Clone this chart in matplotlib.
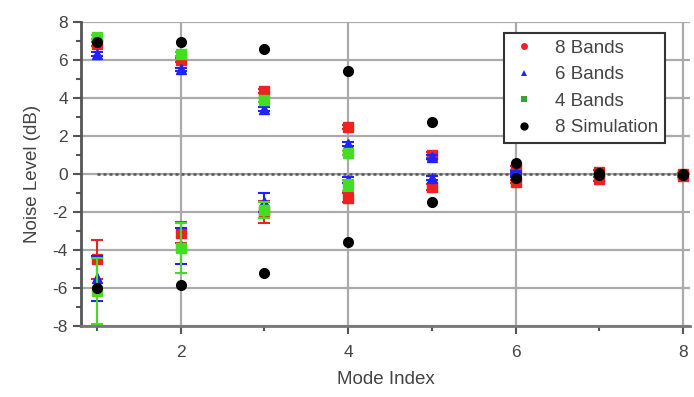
import matplotlib
matplotlib.use("Agg")
import matplotlib.pyplot as plt
from matplotlib.ticker import MultipleLocator
from matplotlib.lines import Line2D

plt.rcParams['font.family'] = ['Liberation Sans', 'DejaVu Sans']
plt.rcParams['axes.unicode_minus'] = False

# ---- data ----
modes8 = [1, 1, 2, 2, 3, 3, 4, 4, 5, 5, 6, 6, 7, 7, 8, 8]
bands8 = [6.85, -4.5, 6.0, -3.1, 4.38, -2.0, 2.46, -1.25, 1.0, -0.67, 0.3, -0.4, 0.1, -0.25, 0.0, -0.1]
err8 = [0.1, 1.05, 0.1, 0.55, 0.1, 0.6, 0.1, 0.25, 0.15, 0.15, 0.1, 0.1, 0.1, 0.1, 0.05, 0.05]

modes6 = [1, 1, 2, 2, 3, 3, 4, 4, 5, 5, 6, 6]
bands6 = [6.3, -5.5, 5.5, -3.8, 3.4, -1.5, 1.58, -0.3, 0.9, -0.2, 0.12, -0.1]
err6 = [0.1, 1.2, 0.1, 0.93, 0.1, 0.5, 0.1, 0.15, 0.1, 0.1, 0.05, 0.05]

modes4 = [1, 1, 2, 2, 3, 3, 4, 4]
bands4 = [7.2, -6.15, 6.3, -3.9, 3.9, -1.9, 1.1, -0.6]
err4 = [0.1, 1.75, 0.1, 1.3, 0.1, 0.4, 0.1, 0.3]

modes_sim = [1, 1, 2, 2, 3, 3, 4, 4, 5, 5, 6, 6, 7, 7, 8, 8]
sim8 = [6.95, -6.0, 6.93, -5.85, 6.6, -5.2, 5.42, -3.6, 2.75, -1.46, 0.56, -0.23, 0.05, -0.05, 0.0, -0.05]

labels = ["8 Bands", "6 Bands", "4 Bands", "8 Simulation"]
colors = ['#ee2222', '#2222ff', '#44dd22', 'black']
markers = ['s', '^', 's', 'o']

fig = plt.figure(figsize=(6.94, 3.97), dpi=100)
ax = fig.add_axes([0.1167, 0.179, 0.994 - 0.1167, 0.9446 - 0.179])

txt = '#444444'
grid_c = '#aaaaaa'

ax.set_xlim(0.81, 8.08)
ax.set_ylim(-8, 8)
ax.yaxis.set_major_locator(MultipleLocator(2))
ax.yaxis.set_minor_locator(MultipleLocator(1))
ax.xaxis.set_major_locator(MultipleLocator(2))
ax.xaxis.set_minor_locator(MultipleLocator(1))
ax.grid(True, which='major', color=grid_c, linewidth=1.6, zorder=0)
ax.set_axisbelow(True)

for s in ['top', 'right']:
    ax.spines[s].set_visible(False)
ax.spines['left'].set_color('#555555')
ax.spines['left'].set_linewidth(2.0)
ax.spines['bottom'].set_color('#777777')
ax.spines['bottom'].set_linewidth(2.0)

ax.tick_params(axis='both', which='major', direction='out', length=6, width=1.5,
               color='#555555', labelsize=12.5, labelcolor=txt)
ax.tick_params(axis='x', which='major', pad=8)
ax.tick_params(axis='both', which='minor', direction='out', length=3.5, width=1.5,
               color='#555555')

ax.hlines(0, 1, 8.08, colors='#555555', linestyles=(0, (1.2, 1.2)), linewidth=1.8, zorder=1)

ax.errorbar(modes8, bands8, yerr=err8, fmt=markers[0], color=colors[0], ecolor=colors[0],
            markersize=6.5, capsize=4, elinewidth=1.5, capthick=1.5, zorder=3)
ax.errorbar(modes6, bands6, yerr=err6, fmt=markers[1], color=colors[1], ecolor=colors[1],
            markersize=7, capsize=4, elinewidth=1.5, capthick=1.5, zorder=4)
ax.errorbar(modes4, bands4, yerr=err4, fmt=markers[2], color=colors[2], ecolor=colors[2],
            markersize=6.5, capsize=4, elinewidth=1.5, capthick=1.5, zorder=5)
ax.plot(modes_sim, sim8, markers[3], color=colors[3], markersize=7, zorder=6)

handles = [Line2D([], [], linestyle='none', marker=m, color=c,
                  markersize=(4 if m == 's' else 5), markeredgewidth=0)
           for m, c in zip(['o', '^', 's', 'o'], ['#ee2222', '#2222ff', '#3aa03a', 'black'])]
handles[3].set_markersize(6)
leg = ax.legend(handles, labels, loc='upper right', bbox_to_anchor=(0.975, 0.995), fontsize=13.5,
                frameon=True, fancybox=False, edgecolor='#333333', framealpha=1,
                handlelength=1.4, handletextpad=1.0, borderpad=0.35, labelspacing=0.5,
                labelcolor=txt)
leg.get_frame().set_linewidth(1.5)

ax.set_xlabel("Mode Index", fontsize=13.5, color=txt, labelpad=8)
ax.set_ylabel("Noise Level (dB)", fontsize=13.5, color=txt, labelpad=8)

fig.savefig("out.png", dpi=100)
